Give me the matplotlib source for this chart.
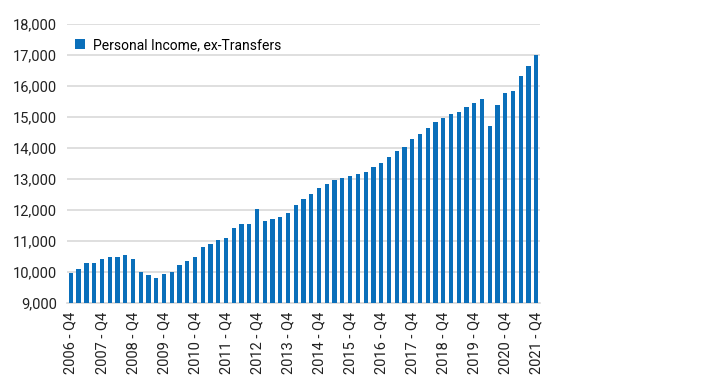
import matplotlib.pyplot as plt
from matplotlib.ticker import FuncFormatter

# quarterly, 2006 Q4 .. 2021 Q4
quarters = [f"{y} - Q{q}" for y in range(2006, 2022) for q in range(1, 5)][3:]
income = [9965, 10093, 10296, 10296, 10415, 10489, 10489, 10553, 10415, 10016,
          9888, 9814, 9952, 10016, 10215, 10360, 10489, 10820, 10897, 11025,
          11090, 11421, 11560, 11560, 12032, 11637, 11700, 11765, 11904, 12161,
          12363, 12505, 12707, 12826, 12965, 13029, 13093, 13167, 13232, 13373,
          13511, 13704, 13907, 14035, 14305, 14444, 14637, 14840, 14980, 15109,
          15174, 15312, 15441, 15579, 14723, 15376, 15785, 15836, 16318, 16653,
          16984]
series_name = "Personal Income, ex-Transfers"
yticks = list(range(9000, 18001, 1000))

plt.rcParams['font.family'] = ['Roboto', 'DejaVu Sans']
fig = plt.figure(figsize=(7.28, 3.87), dpi=100)
ax = fig.add_axes([0.092, 0.217, 0.65, 0.721])

x = list(range(len(quarters)))
ax.bar(x, income, width=0.55, color='#0a6fba', label=series_name, zorder=3)

ax.set_ylim(9000, 18000)
ax.set_xlim(-0.5, len(quarters) - 0.5)
ax.set_yticks(yticks)
ax.yaxis.set_major_formatter(FuncFormatter(lambda v, p: f"{int(v):,}"))
ax.set_xticks(x[::4])
ax.set_xticklabels(quarters[::4], rotation=90)
ax.tick_params(axis='both', length=0, labelsize=10.5, colors='#222222')
ax.tick_params(axis='x', pad=6)
ax.tick_params(axis='y', pad=7)
ax.grid(axis='y', color='#d9d9d9', linewidth=1.2, zorder=0)
for s in ['top', 'right', 'left']:
    ax.spines[s].set_visible(False)
ax.spines['bottom'].set_color('#d9d9d9')
ax.spines['bottom'].set_linewidth(1.2)

ax.legend(loc='upper left', frameon=False, fontsize=10, handlelength=0.7,
          handleheight=0.7, handletextpad=0.6, borderaxespad=0.2,
          bbox_to_anchor=(0.0, 0.98))

fig.savefig("out.png", dpi=100)
